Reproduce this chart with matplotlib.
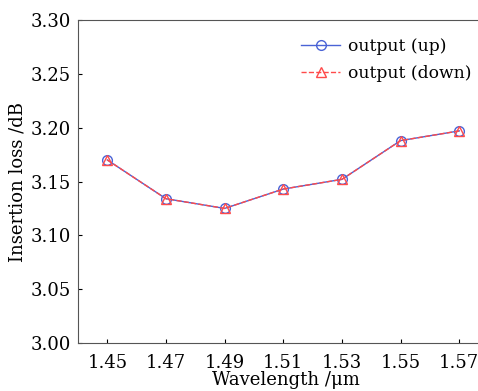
import matplotlib
matplotlib.use("Agg")
import matplotlib.pyplot as plt

wavelength = [1.45, 1.47, 1.49, 1.51, 1.53, 1.55, 1.57]
loss_up = [3.170, 3.134, 3.125, 3.143, 3.152, 3.188, 3.197]
loss_down = [3.170, 3.134, 3.125, 3.143, 3.152, 3.188, 3.197]
xticks = [1.45, 1.47, 1.49, 1.51, 1.53, 1.55, 1.57]
yticks = [3.00, 3.05, 3.10, 3.15, 3.20, 3.25, 3.30]

plt.rcParams["font.family"] = ["DejaVu Serif"]
plt.rcParams["mathtext.fontset"] = "dejavuserif"

fig = plt.figure(figsize=(4.78, 3.91), dpi=100)
# axes run past the right edge of the figure, as in the original
ax = fig.add_axes([0.1632, 0.1228, 0.87, 0.826])

ax.plot(wavelength, loss_up, "-", color="#4a63d6", linewidth=1,
        marker="o", markersize=7, markerfacecolor="none",
        markeredgecolor="#4a63d6", markeredgewidth=1, label="output (up)")
ax.plot(wavelength, loss_down, "--", color="#ff4a4a", linewidth=1,
        marker="^", markersize=6.5, markerfacecolor="none",
        markeredgecolor="#ff4a4a", markeredgewidth=1, label="output (down)")

ax.set_xlim(1.44, 1.5818)
ax.set_ylim(3.00, 3.30)
ax.set_xticks(xticks)
ax.set_yticks(yticks)
ax.set_xticklabels([f"{v:.2f}" for v in xticks])
ax.set_yticklabels([f"{v:.2f}" for v in yticks])
ax.tick_params(direction="in", length=3, width=0.8, labelsize=13,
               top=False, right=False)
ax.tick_params(axis="x", pad=8)
ax.tick_params(axis="y", pad=5)
for s in ax.spines.values():
    s.set_color("#555555")
    s.set_linewidth(0.8)

ax.set_xlabel("Wavelength /μm", fontsize=13, labelpad=-1)
ax.set_ylabel("Insertion loss /dB", fontsize=13, labelpad=3)

ax.legend(loc="upper left", bbox_to_anchor=(0.52, 0.966), frameon=False,
          fontsize=12.3, handlelength=2.3, handletextpad=0.45,
          labelspacing=0.6, borderaxespad=0)

fig.savefig("out.png", dpi=100)
